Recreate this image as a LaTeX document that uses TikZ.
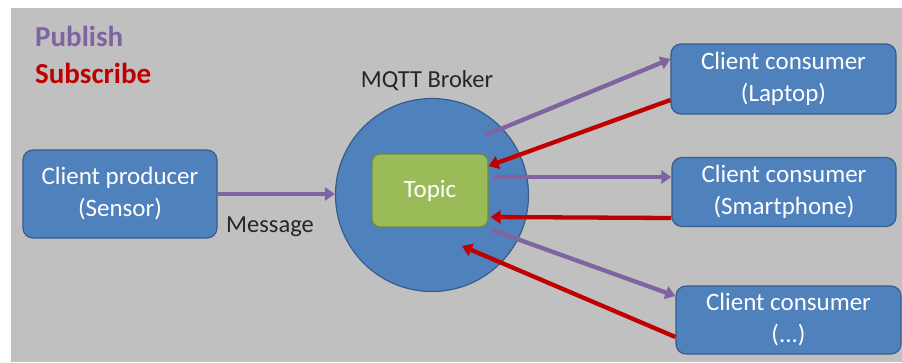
\documentclass[tikz,border=0pt]{standalone}
\usepackage{fontspec}
\setmainfont{Carlito}
\usetikzlibrary{arrows.meta}
\definecolor{bg}{HTML}{C0C0C0}
\definecolor{boxblue}{HTML}{4F81BD}
\definecolor{boxedge}{HTML}{385D8A}
\definecolor{topicgreen}{HTML}{9BBB59}
\definecolor{topicedge}{HTML}{71893F}
\definecolor{pubcol}{HTML}{8064A2}
\definecolor{subcol}{HTML}{C00000}
\definecolor{txt}{HTML}{262626}
\tikzset{
  client/.style={draw=boxedge, line width=1.2pt, fill=boxblue, rounded corners=10pt,
    text=white, align=center, font=\fontsize{25}{32}\selectfont, inner sep=0pt},
  pub/.style={draw=pubcol, line width=4.3pt, -{Triangle[width=13pt,length=10pt]}},
  sub/.style={draw=subcol, line width=4.3pt, -{Triangle[width=13pt,length=10pt]}},
  lbl/.style={text=txt, font=\fontsize{24.5}{28}\selectfont, inner sep=0pt},
  legend/.style={font=\bfseries\fontsize{29}{32}\selectfont, inner sep=0pt, anchor=west}
}
\begin{document}
\begin{tikzpicture}[x=1pt, y=-1pt]
\useasboundingbox (0,0) rectangle (902,362);
\fill[white] (0,0) rectangle (902,362);
\fill[bg] (11,8) rectangle (902,362);

\node[legend, text=pubcol] (publish) at (35,36) {Publish};
\node[legend, text=subcol] (subscribe) at (35,73) {Subscribe};

\node[circle, draw=boxedge, line width=1.2pt, fill=boxblue, minimum size=193pt, inner sep=0pt] (broker) at (432,195) {};
\node[lbl] (brokerlbl) at (427,81) {MQTT Broker};
\node[draw=topicedge, line width=1.2pt, fill=topicgreen, rounded corners=8pt, minimum width=116pt, minimum height=73pt,
  text=white, font=\fontsize{25}{28}\selectfont, inner sep=0pt] (topic) at (430,190.5) {Topic};

\node[client, minimum width=194pt, minimum height=88pt] (prod) at (120,194) {Client producer\\(Sensor)};
\node[client, minimum width=225pt, minimum height=70pt] (lap) at (783.5,79) {Client consumer\\(Laptop)};
\node[client, minimum width=224pt, minimum height=69pt] (smart) at (784,192) {Client consumer\\(Smartphone)};
\node[client, minimum width=225pt, minimum height=68pt] (etc) at (788.5,320) {Client consumer\\(...)};

\node[lbl] (msg) at (270,227) {Message};

\coordinate (p1) at (486,135);
\coordinate (p3) at (492,230);
\coordinate (s3) at (462,246);

\draw[pub] (prod.east) -- (prod.east -| broker.west);
\draw[pub] (p1) -- ([yshift=20pt]lap.west);
\draw[sub] ([yshift=-21pt]lap.west) -- ([yshift=24.5pt]topic.east);
\draw[pub] ([xshift=5pt,yshift=13.5pt]topic.east) -- ([yshift=15pt]smart.west);
\draw[sub] ([yshift=-26pt]smart.west) -- ([xshift=2pt,yshift=-26.5pt]topic.east);
\draw[pub] (p3) -- ([yshift=24pt]etc.west);
\draw[sub] ([yshift=-17pt]etc.west) -- (s3);
\end{tikzpicture}
\end{document}
